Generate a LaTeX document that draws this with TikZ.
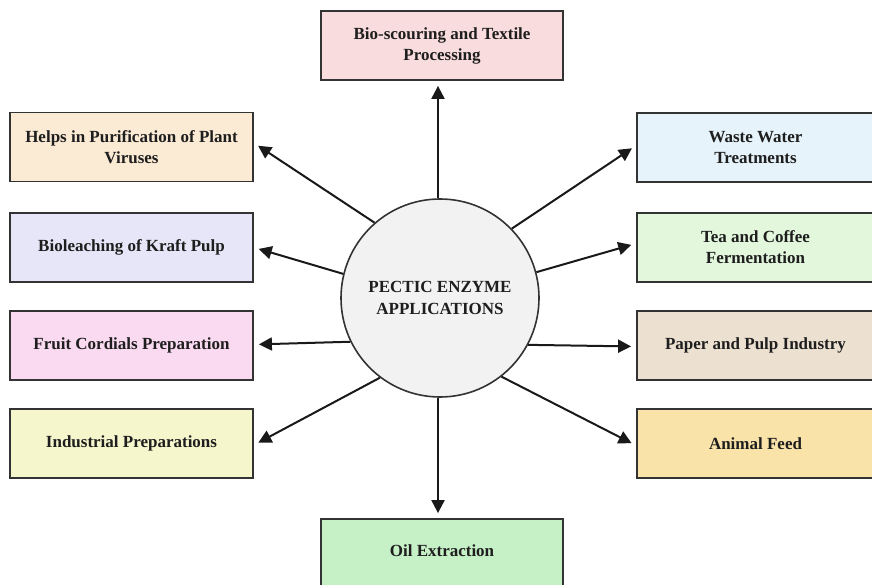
\documentclass[tikz,border=0pt]{standalone}
\usepackage{fontspec}
\setmainfont{Liberation Serif}
\usetikzlibrary{arrows.meta}
\definecolor{edge}{HTML}{333333}
\definecolor{ink}{HTML}{1E1E1E}
\definecolor{cBio}{HTML}{F9DCDD}
\definecolor{cVir}{HTML}{FBEBD5}
\definecolor{cKraft}{HTML}{E6E6F8}
\definecolor{cFruit}{HTML}{F9DAF0}
\definecolor{cInd}{HTML}{F5F6CC}
\definecolor{cWater}{HTML}{E6F3FA}
\definecolor{cTea}{HTML}{E2F7DC}
\definecolor{cPaper}{HTML}{ECE0D0}
\definecolor{cFeed}{HTML}{F9E3A8}
\definecolor{cOil}{HTML}{C6F0C6}
\definecolor{cHub}{HTML}{F2F2F2}
\tikzset{
  appbox/.style={draw=edge, line width=1.8pt, rectangle, align=center,
    text=ink, font=\fontsize{17}{21}\selectfont\bfseries,
    inner sep=0pt},
  leftbox/.style={appbox, minimum width=243pt, minimum height=69pt},
  rightbox/.style={appbox, minimum width=237pt, minimum height=69pt},
  hub/.style={draw=edge, line width=1.6pt, circle, fill=cHub,
    minimum size=198pt, inner sep=0pt, align=center, text=ink,
    font=\fontsize{17}{22}\selectfont\bfseries},
  arr/.style={draw=black!90, line width=2pt,
    -{Triangle[length=13pt,width=13pt]}, shorten >=5pt}
}
\begin{document}
\begin{tikzpicture}[x=1pt, y=-1pt]
  \useasboundingbox (0,0) rectangle (872,585);

  % central hub
  \node[hub] (c) at (440,298) {PECTIC ENZYME\\APPLICATIONS};

  % top and bottom boxes
  \node[appbox, fill=cBio, minimum width=242pt, minimum height=69pt]
    (bio) at (442,45.5) {Bio-scouring and Textile\\Processing};
  \node[appbox, fill=cOil, minimum width=242pt, minimum height=70pt]
    (oil) at (442,554) {\raisebox{6pt}{Oil Extraction}};

  % left column
  \node[leftbox, fill=cVir]   (vir)   at (131.5,147)   {Helps in Purification of Plant\\Viruses};
  \node[leftbox, fill=cKraft] (kraft) at (131.5,247.5) {Bioleaching of Kraft Pulp};
  \node[leftbox, fill=cFruit] (fruit) at (131.5,345.5) {Fruit Cordials Preparation};
  \node[leftbox, fill=cInd]   (ind)   at (131.5,443.5) {Industrial Preparations};

  % right column (runs past the right border)
  \node[rightbox, fill=cWater] (water) at (755.5,147.5) {Waste Water\\Treatments};
  \node[rightbox, fill=cTea]   (tea)   at (755.5,247.5) {Tea and Coffee\\Fermentation};
  \node[rightbox, fill=cPaper] (paper) at (755.5,345.5) {Paper and Pulp Industry};
  \node[rightbox, fill=cFeed]  (feed)  at (755.5,443.5) {Animal Feed};

  % connectors
  \draw[arr] ([xshift=-2pt]c.north) -- ([xshift=-2pt]c.north |- bio.south);
  \draw[arr] ([xshift=-2pt]c.south) -- ([xshift=-2pt]c.south |- oil.north);
  \draw[arr] (c.131) -- ([yshift=4pt]vir.east);
  \draw[arr] (c.166) -- (kraft.east);
  \draw[arr] (c.206) -- ([yshift=1pt]fruit.east);
  \draw[arr] (c.233) -- ([yshift=-1.5pt]ind.east);
  \draw[arr] (c.44)  -- ([yshift=2pt]water.west);
  \draw[arr] (c.15)  -- ([yshift=4pt]tea.west);
  \draw[arr] (c.-28) -- ([yshift=-1pt]paper.west);
  \draw[arr] (c.-52) -- ([yshift=-2pt]feed.west);
\end{tikzpicture}
\end{document}
